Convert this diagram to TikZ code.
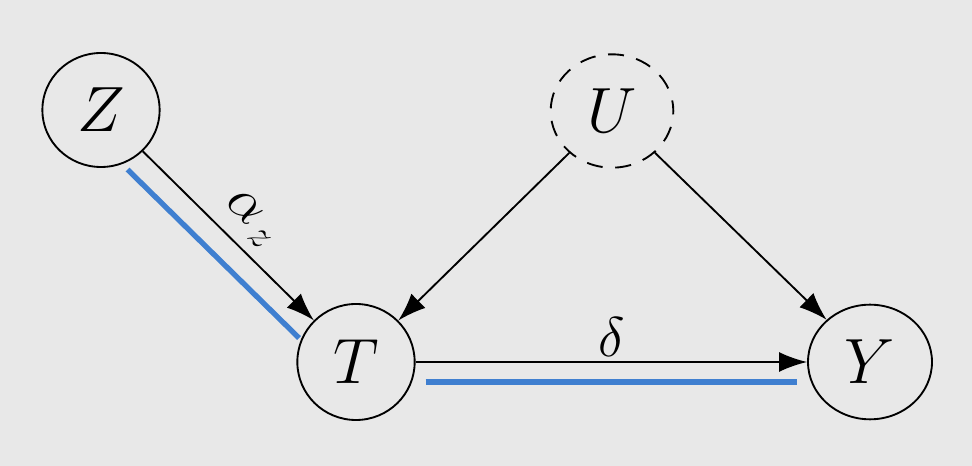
\RequirePackage{fix-cm}
\documentclass[tikz,border=0pt]{standalone}
\usepackage{amsmath}
\usetikzlibrary{shapes.geometric,arrows.meta,calc}
\definecolor{bg}{HTML}{E8E8E8}
\definecolor{hl}{HTML}{3F7FD0}
\begin{document}
\begin{tikzpicture}[x=0.75pt,y=-0.75pt,
  var/.style={draw,ellipse,line width=1.4pt,inner sep=0pt,font=\fontsize{48}{54}\selectfont},
  latentvar/.style={var,dash pattern=on 12pt off 9.5pt,dash phase=4pt},
  edge/.style={line width=1.4pt,-{Latex[length=21pt,width=15pt]}},
  highlight/.style={line width=4pt,hl},
  lbl/.style={font=\fontsize{42}{48}\selectfont}]
\fill[bg] (0,0) rectangle (972,466);
\useasboundingbox (0,0) rectangle (972,466);
\node[var,minimum width=88pt,minimum height=85.5pt] (Z) at (101,110) {$Z$};
\node[latentvar,minimum width=92pt,minimum height=85pt] (U) at (612,111) {$U$};
\node[var,minimum width=88pt,minimum height=87pt] (T) at (356,362) {$T$};
\node[var,minimum width=93pt,minimum height=86pt] (Y) at (870,362) {$Y$};
\draw[edge] (Z) -- node[lbl,pos=0.52,above=5pt,sloped]{$\alpha_{\mkern2mu z}$} (T);
\draw[edge] (U) -- (T);
\draw[edge] (U) -- (Y);
\draw[edge] (T) -- node[lbl,above=0pt]{$\delta$} (Y);
\draw[highlight] ([shift={(-15,18)}]Z.-45) -- ([shift={(-15,18)}]T.135);
\draw[highlight] ([shift={(10,20)}]T.east) -- ([shift={(-10,20)}]Y.west);
\end{tikzpicture}
\end{document}
